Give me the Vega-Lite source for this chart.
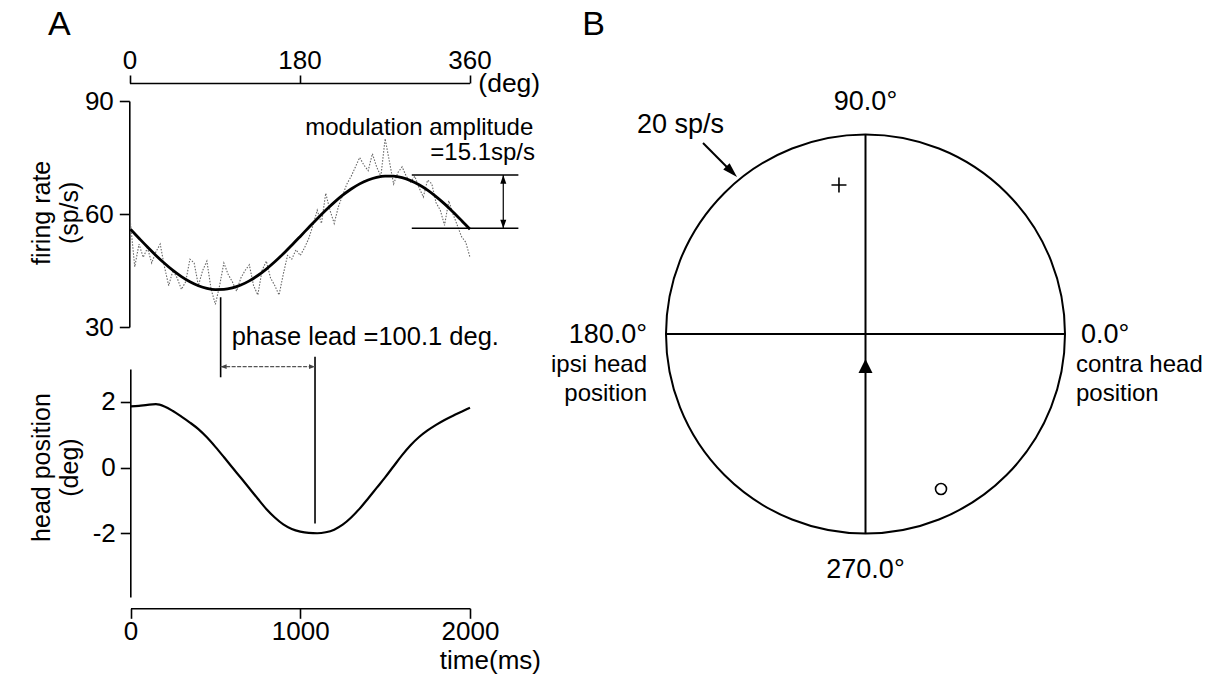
{
"$schema": "https://vega.github.io/schema/vega-lite/v6.json",
"width": 1215, "height": 687,
"autosize": {"type": "none"},
"padding": 0,
"background": "white",
"config": {
  "view": {"stroke": null},
  "font": "Liberation Sans",
  "axis": {"grid": false, "domainColor": "#000", "domainWidth": 1.6, "tickColor": "#000", "tickWidth": 1.6, "tickSize": 10, "labelFont": "Liberation Sans", "labelFontSize": 26, "labelColor": "#000", "labelPadding": 4, "labelFlush": false, "labelOverlap": false},
  "text": {"font": "Liberation Sans", "color": "#000"}
},
"datasets": {
  "fit": [
    {"t":0,"fr":55.95},{"t":50,"fr":53.58},{"t":100,"fr":51.24},{"t":150,"fr":49.0},{"t":200,"fr":46.91},{"t":250,"fr":45.01},{"t":300,"fr":43.37},{"t":350,"fr":42.0},{"t":400,"fr":40.96},{"t":450,"fr":40.26},{"t":500,"fr":39.93},{"t":550,"fr":39.97},{"t":600,"fr":40.37},{"t":650,"fr":41.14},{"t":700,"fr":42.25},{"t":750,"fr":43.67},{"t":800,"fr":45.38},{"t":850,"fr":47.31},{"t":900,"fr":49.44},{"t":950,"fr":51.71},{"t":1000,"fr":54.05},{"t":1050,"fr":56.42},{"t":1100,"fr":58.76},{"t":1150,"fr":61.0},{"t":1200,"fr":63.09},{"t":1250,"fr":64.99},{"t":1300,"fr":66.63},{"t":1350,"fr":68.0},{"t":1400,"fr":69.04},{"t":1450,"fr":69.74},{"t":1500,"fr":70.07},{"t":1550,"fr":70.03},{"t":1600,"fr":69.63},{"t":1650,"fr":68.86},{"t":1700,"fr":67.75},{"t":1750,"fr":66.33},{"t":1800,"fr":64.62},{"t":1850,"fr":62.69},{"t":1900,"fr":60.56},{"t":1950,"fr":58.29},{"t":2000,"fr":55.95}
  ],
  "raw": [
    {"t":0,"fr":57.5},{"t":25,"fr":46},{"t":50,"fr":52},{"t":75,"fr":48.5},{"t":100,"fr":51},{"t":125,"fr":47},{"t":150,"fr":50},{"t":175,"fr":52},{"t":200,"fr":46},{"t":225,"fr":41},{"t":250,"fr":45},{"t":275,"fr":43},{"t":300,"fr":40},{"t":325,"fr":42},{"t":350,"fr":48},{"t":375,"fr":47},{"t":400,"fr":41},{"t":425,"fr":45},{"t":450,"fr":47.5},{"t":475,"fr":40},{"t":500,"fr":36},{"t":525,"fr":41},{"t":550,"fr":47},{"t":575,"fr":44},{"t":600,"fr":42},{"t":625,"fr":39.5},{"t":650,"fr":43},{"t":675,"fr":45},{"t":700,"fr":46.5},{"t":725,"fr":41},{"t":750,"fr":38.5},{"t":775,"fr":45},{"t":800,"fr":47.5},{"t":825,"fr":43},{"t":850,"fr":41},{"t":875,"fr":38.5},{"t":900,"fr":44},{"t":925,"fr":49},{"t":950,"fr":48},{"t":975,"fr":50.5},{"t":1000,"fr":49},{"t":1025,"fr":51},{"t":1050,"fr":53.5},{"t":1075,"fr":57},{"t":1100,"fr":61},{"t":1125,"fr":57.5},{"t":1150,"fr":65.5},{"t":1175,"fr":61},{"t":1200,"fr":57.5},{"t":1225,"fr":62},{"t":1250,"fr":65},{"t":1275,"fr":68},{"t":1300,"fr":70},{"t":1325,"fr":72.5},{"t":1350,"fr":75},{"t":1375,"fr":73},{"t":1400,"fr":71.5},{"t":1425,"fr":76},{"t":1450,"fr":72.5},{"t":1475,"fr":70},{"t":1500,"fr":80},{"t":1525,"fr":74},{"t":1550,"fr":68},{"t":1575,"fr":71},{"t":1600,"fr":72.5},{"t":1625,"fr":70},{"t":1650,"fr":68.5},{"t":1675,"fr":70},{"t":1700,"fr":67},{"t":1725,"fr":64.5},{"t":1750,"fr":69},{"t":1775,"fr":68},{"t":1800,"fr":63},{"t":1825,"fr":61},{"t":1850,"fr":57},{"t":1875,"fr":63.5},{"t":1900,"fr":60},{"t":1925,"fr":57},{"t":1950,"fr":54},{"t":1975,"fr":52.5},{"t":2000,"fr":48.5}
  ],
  "head": [
    {"t":0,"pos":1.86},{"t":50,"pos":1.88},{"t":100,"pos":1.91},{"t":150,"pos":1.93},{"t":200,"pos":1.86},{"t":250,"pos":1.72},{"t":300,"pos":1.55},{"t":350,"pos":1.37},{"t":400,"pos":1.17},{"t":450,"pos":0.92},{"t":500,"pos":0.63},{"t":550,"pos":0.32},{"t":600,"pos":0.0},{"t":650,"pos":-0.31},{"t":700,"pos":-0.63},{"t":750,"pos":-0.95},{"t":800,"pos":-1.26},{"t":850,"pos":-1.52},{"t":900,"pos":-1.73},{"t":950,"pos":-1.87},{"t":1000,"pos":-1.95},{"t":1050,"pos":-1.99},{"t":1100,"pos":-2.0},{"t":1150,"pos":-1.97},{"t":1200,"pos":-1.89},{"t":1250,"pos":-1.74},{"t":1300,"pos":-1.52},{"t":1350,"pos":-1.25},{"t":1400,"pos":-0.94},{"t":1450,"pos":-0.62},{"t":1500,"pos":-0.3},{"t":1550,"pos":0.04},{"t":1600,"pos":0.38},{"t":1650,"pos":0.68},{"t":1700,"pos":0.93},{"t":1750,"pos":1.13},{"t":1800,"pos":1.3},{"t":1850,"pos":1.45},{"t":1900,"pos":1.58},{"t":1950,"pos":1.7},{"t":2000,"pos":1.82}
  ]
},
"resolve": {"scale": {"x": "independent", "y": "independent"}, "axis": {"x": "independent", "y": "independent"}},
"layer": [
  {"data": {"values": [{}]}, "mark": {"type": "point", "opacity": 0},
   "encoding": {"x": {"datum": 0, "type": "quantitative", "scale": {"domain": [0,360], "range": [129.5,469.5], "nice": false, "zero": false}, "axis": {"orient": "top", "offset": -83, "values": [0,180,360], "title": null, "tickSize": 8, "labelPadding": 2}}}},
  {"data": {"name": "raw"}, "mark": {"type": "line", "color": "#666", "strokeWidth": 1.1, "strokeDash": [1.5,1.5]},
   "encoding": {"x": {"field": "t", "type": "quantitative", "scale": {"domain": [0,2000], "range": [130.5,470], "nice": false, "zero": false}, "axis": null},
                "y": {"field": "fr", "type": "quantitative", "scale": {"domain": [30,90], "range": [327,101], "nice": false, "zero": false}, "axis": null}}},
  {"data": {"name": "fit"}, "mark": {"type": "line", "color": "#000", "strokeWidth": 2.8, "interpolate": "monotone"},
   "encoding": {"x": {"field": "t", "type": "quantitative", "scale": {"domain": [0,2000], "range": [130.5,470], "nice": false, "zero": false}, "axis": null},
                "y": {"field": "fr", "type": "quantitative", "scale": {"domain": [30,90], "range": [327,101], "nice": false, "zero": false}, "axis": {"orient": "left", "offset": -129.3, "values": [30,60,90], "title": null, "labelPadding": 6}}}},
  {"data": {"name": "head"}, "mark": {"type": "line", "color": "#000", "strokeWidth": 2.2, "interpolate": "monotone"},
   "encoding": {"x": {"field": "t", "type": "quantitative", "scale": {"domain": [0,2000], "range": [130.5,470], "nice": false, "zero": false}, "axis": {"orient": "bottom", "offset": -78.7, "values": [0,1000,2000], "format": "d", "title": null, "labelPadding": 0}},
                "y": {"field": "pos", "type": "quantitative", "scale": {"domain": [-3.94,3], "range": [597,369], "nice": false, "zero": false}, "axis": {"orient": "left", "offset": -130.3, "values": [-2,0,2], "title": null, "labelPadding": 5, "labelExpr": "datum.value < 0 ? '-' + abs(datum.value) : datum.label"}}}},
  {"data": {"values": [{"level": "max", "fr": 70.35}, {"level": "min", "fr": 56.2}]}, "mark": {"type": "rule", "color": "#000", "strokeWidth": 1.6},
   "encoding": {"x": {"datum": 1657, "type": "quantitative", "scale": {"domain": [0,2000], "range": [130.5,470], "nice": false, "zero": false}, "axis": null}, "x2": {"datum": 2285},
                "y": {"field": "fr", "type": "quantitative", "scale": {"domain": [30,90], "range": [327,101], "nice": false, "zero": false}, "axis": null}}},
  {"data": {"values": [{}]}, "mark": {"type": "rule", "color": "#000", "strokeWidth": 1.2},
   "encoding": {"x": {"datum": 2196, "type": "quantitative", "scale": {"domain": [0,2000], "range": [130.5,470], "nice": false, "zero": false}, "axis": null},
                "y": {"datum": 70.35, "type": "quantitative", "scale": {"domain": [30,90], "range": [327,101], "nice": false, "zero": false}, "axis": null}, "y2": {"datum": 56.2}}},
  {"data": {"values": [{}]}, "mark": {"type": "point", "shape": "M0,0L-0.35,1L0.35,1Z", "filled": true, "color": "#000", "opacity": 1, "size": 300, "strokeWidth": 0},
   "encoding": {"x": {"datum": 2196, "type": "quantitative", "scale": {"domain": [0,2000], "range": [130.5,470], "nice": false, "zero": false}, "axis": null},
                "y": {"datum": 70.35, "type": "quantitative", "scale": {"domain": [30,90], "range": [327,101], "nice": false, "zero": false}, "axis": null}}},
  {"data": {"values": [{}]}, "mark": {"type": "point", "shape": "M0,0L-0.35,-1L0.35,-1Z", "filled": true, "color": "#000", "opacity": 1, "size": 300, "strokeWidth": 0},
   "encoding": {"x": {"datum": 2196, "type": "quantitative", "scale": {"domain": [0,2000], "range": [130.5,470], "nice": false, "zero": false}, "axis": null},
                "y": {"datum": 56.2, "type": "quantitative", "scale": {"domain": [30,90], "range": [327,101], "nice": false, "zero": false}, "axis": null}}},
  {"data": {"values": [{}]}, "mark": {"type": "text", "text": "modulation amplitude", "fontSize": 24, "align": "right", "baseline": "alphabetic"},
   "encoding": {"x": {"datum": 2373, "type": "quantitative", "scale": {"domain": [0,2000], "range": [130.5,470], "nice": false, "zero": false}, "axis": null},
                "y": {"datum": 80.97, "type": "quantitative", "scale": {"domain": [30,90], "range": [327,101], "nice": false, "zero": false}, "axis": null}}},
  {"data": {"values": [{}]}, "mark": {"type": "text", "text": "=15.1sp/s", "fontSize": 24, "align": "right", "baseline": "alphabetic"},
   "encoding": {"x": {"datum": 2383, "type": "quantitative", "scale": {"domain": [0,2000], "range": [130.5,470], "nice": false, "zero": false}, "axis": null},
                "y": {"datum": 74.33, "type": "quantitative", "scale": {"domain": [30,90], "range": [327,101], "nice": false, "zero": false}, "axis": null}}},
  {"data": {"values": [{}]}, "mark": {"type": "rule", "color": "#000", "strokeWidth": 1.6},
   "encoding": {"x": {"datum": 531, "type": "quantitative", "scale": {"domain": [0,2000], "range": [130.5,470], "nice": false, "zero": false}, "axis": null},
                "y": {"datum": 37.9, "type": "quantitative", "scale": {"domain": [30,90], "range": [327,101], "nice": false, "zero": false}, "axis": null}, "y2": {"datum": 16.65}}},
  {"data": {"values": [{}]}, "mark": {"type": "rule", "color": "#000", "strokeWidth": 1.6},
   "encoding": {"x": {"datum": 1087, "type": "quantitative", "scale": {"domain": [0,2000], "range": [130.5,470], "nice": false, "zero": false}, "axis": null},
                "y": {"datum": 3.37, "type": "quantitative", "scale": {"domain": [-3.94,3], "range": [597,369], "nice": false, "zero": false}, "axis": null}, "y2": {"datum": -1.7}}},
  {"data": {"values": [{}]}, "mark": {"type": "rule", "color": "#555", "strokeWidth": 1.2, "strokeDash": [4,1.5]},
   "encoding": {"x": {"datum": 531, "type": "quantitative", "scale": {"domain": [0,2000], "range": [130.5,470], "nice": false, "zero": false}, "axis": null}, "x2": {"datum": 1087},
                "y": {"datum": 3.07, "type": "quantitative", "scale": {"domain": [-3.94,3], "range": [597,369], "nice": false, "zero": false}, "axis": null}}},
  {"data": {"values": [{}]}, "mark": {"type": "point", "shape": "M0,0L-0.4,1L0.4,1Z", "filled": true, "color": "#444", "opacity": 1, "size": 144, "strokeWidth": 0, "angle": 270},
   "encoding": {"x": {"datum": 531, "type": "quantitative", "scale": {"domain": [0,2000], "range": [130.5,470], "nice": false, "zero": false}, "axis": null},
                "y": {"datum": 3.07, "type": "quantitative", "scale": {"domain": [-3.94,3], "range": [597,369], "nice": false, "zero": false}, "axis": null}}},
  {"data": {"values": [{}]}, "mark": {"type": "point", "shape": "M0,0L-0.4,1L0.4,1Z", "filled": true, "color": "#444", "opacity": 1, "size": 144, "strokeWidth": 0, "angle": 90},
   "encoding": {"x": {"datum": 1087, "type": "quantitative", "scale": {"domain": [0,2000], "range": [130.5,470], "nice": false, "zero": false}, "axis": null},
                "y": {"datum": 3.07, "type": "quantitative", "scale": {"domain": [-3.94,3], "range": [597,369], "nice": false, "zero": false}, "axis": null}}},
  {"data": {"values": [{}]}, "mark": {"type": "text", "text": "phase lead =100.1 deg.", "fontSize": 25.5, "align": "left", "baseline": "alphabetic"},
   "encoding": {"x": {"datum": 596, "type": "quantitative", "scale": {"domain": [0,2000], "range": [130.5,470], "nice": false, "zero": false}, "axis": null},
                "y": {"datum": 25.22, "type": "quantitative", "scale": {"domain": [30,90], "range": [327,101], "nice": false, "zero": false}, "axis": null}}},
  {"data": {"values": [{}]}, "mark": {"type": "text", "text": "(deg)", "fontSize": 26.5, "align": "left", "baseline": "alphabetic"},
   "encoding": {"x": {"datum": 2049, "type": "quantitative", "scale": {"domain": [0,2000], "range": [130.5,470], "nice": false, "zero": false}, "axis": null},
                "y": {"datum": 92.38, "type": "quantitative", "scale": {"domain": [30,90], "range": [327,101], "nice": false, "zero": false}, "axis": null}}},
  {"data": {"values": [{}]}, "mark": {"type": "text", "text": "time(ms)", "fontSize": 26, "align": "right", "baseline": "alphabetic"},
   "encoding": {"x": {"datum": 2418, "type": "quantitative", "scale": {"domain": [0,2000], "range": [130.5,470], "nice": false, "zero": false}, "axis": null},
                "y": {"datum": -6.12, "type": "quantitative", "scale": {"domain": [-3.94,3], "range": [597,369], "nice": false, "zero": false}, "axis": null}}},
  {"data": {"values": [{}]}, "mark": {"type": "text", "text": ["firing rate", "(sp/s)"], "fontSize": 25, "align": "center", "baseline": "middle", "angle": 270, "lineHeight": 28},
   "encoding": {"x": {"datum": -521, "type": "quantitative", "scale": {"domain": [0,2000], "range": [130.5,470], "nice": false, "zero": false}, "axis": null},
                "y": {"datum": 60.3, "type": "quantitative", "scale": {"domain": [30,90], "range": [327,101], "nice": false, "zero": false}, "axis": null}}},
  {"data": {"values": [{}]}, "mark": {"type": "text", "text": ["head position", "(deg)"], "fontSize": 25, "align": "center", "baseline": "middle", "angle": 270, "lineHeight": 28},
   "encoding": {"x": {"datum": -521, "type": "quantitative", "scale": {"domain": [0,2000], "range": [130.5,470], "nice": false, "zero": false}, "axis": null},
                "y": {"datum": 0, "type": "quantitative", "scale": {"domain": [-3.94,3], "range": [597,369], "nice": false, "zero": false}, "axis": null}}},
  {"data": {"values": [{}]}, "mark": {"type": "text", "text": "A", "fontSize": 34, "align": "left", "baseline": "alphabetic"},
   "encoding": {"x": {"datum": -486, "type": "quantitative", "scale": {"domain": [0,2000], "range": [130.5,470], "nice": false, "zero": false}, "axis": null},
                "y": {"datum": 107.5, "type": "quantitative", "scale": {"domain": [30,90], "range": [327,101], "nice": false, "zero": false}, "axis": null}}},
  {"data": {"values": [{}]}, "mark": {"type": "point", "shape": "circle", "filled": false, "color": "#000", "opacity": 1, "size": 159201, "strokeWidth": 2},
   "encoding": {"x": {"datum": 0, "type": "quantitative", "scale": {"domain": [-20,20], "range": [666,1065], "nice": false, "zero": false}, "axis": null},
                "y": {"datum": 0, "type": "quantitative", "scale": {"domain": [-20,20], "range": [534,134], "nice": false, "zero": false}, "axis": null}}},
  {"data": {"values": [{}]}, "mark": {"type": "rule", "color": "#000", "strokeWidth": 2},
   "encoding": {"x": {"datum": -20, "type": "quantitative", "scale": {"domain": [-20,20], "range": [666,1065], "nice": false, "zero": false}, "axis": null}, "x2": {"datum": 20},
                "y": {"datum": 0, "type": "quantitative", "scale": {"domain": [-20,20], "range": [534,134], "nice": false, "zero": false}, "axis": null}}},
  {"data": {"values": [{}]}, "mark": {"type": "rule", "color": "#000", "strokeWidth": 2},
   "encoding": {"x": {"datum": 0, "type": "quantitative", "scale": {"domain": [-20,20], "range": [666,1065], "nice": false, "zero": false}, "axis": null},
                "y": {"datum": -20, "type": "quantitative", "scale": {"domain": [-20,20], "range": [534,134], "nice": false, "zero": false}, "axis": null}, "y2": {"datum": 20}}},
  {"data": {"values": [{}]}, "mark": {"type": "point", "shape": "M0,0L-0.5,1L0.5,1Z", "filled": true, "color": "#000", "opacity": 1, "size": 784, "strokeWidth": 0},
   "encoding": {"x": {"datum": 0, "type": "quantitative", "scale": {"domain": [-20,20], "range": [666,1065], "nice": false, "zero": false}, "axis": null},
                "y": {"datum": -2.5, "type": "quantitative", "scale": {"domain": [-20,20], "range": [534,134], "nice": false, "zero": false}, "axis": null}}},
  {"data": {"values": [{}]}, "mark": {"type": "point", "shape": "M-1,0L1,0M0,-1L0,1", "filled": false, "color": "#000", "opacity": 1, "size": 225, "strokeWidth": 1.6},
   "encoding": {"x": {"datum": -2.66, "type": "quantitative", "scale": {"domain": [-20,20], "range": [666,1065], "nice": false, "zero": false}, "axis": null},
                "y": {"datum": 14.9, "type": "quantitative", "scale": {"domain": [-20,20], "range": [534,134], "nice": false, "zero": false}, "axis": null}}},
  {"data": {"values": [{}]}, "mark": {"type": "point", "shape": "circle", "filled": false, "color": "#000", "opacity": 1, "size": 121, "strokeWidth": 1.6},
   "encoding": {"x": {"datum": 7.57, "type": "quantitative", "scale": {"domain": [-20,20], "range": [666,1065], "nice": false, "zero": false}, "axis": null},
                "y": {"datum": -15.5, "type": "quantitative", "scale": {"domain": [-20,20], "range": [534,134], "nice": false, "zero": false}, "axis": null}}},
  {"data": {"values": [{}]}, "mark": {"type": "rule", "color": "#000", "strokeWidth": 2},
   "encoding": {"x": {"datum": -16.29, "type": "quantitative", "scale": {"domain": [-20,20], "range": [666,1065], "nice": false, "zero": false}, "axis": null}, "x2": {"datum": -13.3},
                "y": {"datum": 19.1, "type": "quantitative", "scale": {"domain": [-20,20], "range": [534,134], "nice": false, "zero": false}, "axis": null}, "y2": {"datum": 16.1}}},
  {"data": {"values": [{}]}, "mark": {"type": "point", "shape": "M0,0L-0.3,1L0.3,1Z", "filled": true, "color": "#000", "opacity": 1, "size": 900, "strokeWidth": 0, "angle": 135},
   "encoding": {"x": {"datum": -12.88, "type": "quantitative", "scale": {"domain": [-20,20], "range": [666,1065], "nice": false, "zero": false}, "axis": null},
                "y": {"datum": 15.7, "type": "quantitative", "scale": {"domain": [-20,20], "range": [534,134], "nice": false, "zero": false}, "axis": null}}},
  {"data": {"values": [{}]}, "mark": {"type": "text", "text": "20 sp/s", "fontSize": 27, "align": "left", "baseline": "alphabetic"},
   "encoding": {"x": {"datum": -22.9, "type": "quantitative", "scale": {"domain": [-20,20], "range": [666,1065], "nice": false, "zero": false}, "axis": null},
                "y": {"datum": 20.1, "type": "quantitative", "scale": {"domain": [-20,20], "range": [534,134], "nice": false, "zero": false}, "axis": null}}},
  {"data": {"values": [{}]}, "mark": {"type": "text", "text": "90.0°", "fontSize": 27, "align": "center", "baseline": "alphabetic"},
   "encoding": {"x": {"datum": 0, "type": "quantitative", "scale": {"domain": [-20,20], "range": [666,1065], "nice": false, "zero": false}, "axis": null},
                "y": {"datum": 22.4, "type": "quantitative", "scale": {"domain": [-20,20], "range": [534,134], "nice": false, "zero": false}, "axis": null}}},
  {"data": {"values": [{}]}, "mark": {"type": "text", "text": "270.0°", "fontSize": 27, "align": "center", "baseline": "alphabetic"},
   "encoding": {"x": {"datum": 0, "type": "quantitative", "scale": {"domain": [-20,20], "range": [666,1065], "nice": false, "zero": false}, "axis": null},
                "y": {"datum": -24.4, "type": "quantitative", "scale": {"domain": [-20,20], "range": [534,134], "nice": false, "zero": false}, "axis": null}}},
  {"data": {"values": [{}]}, "mark": {"type": "text", "text": "180.0°", "fontSize": 27, "align": "right", "baseline": "alphabetic"},
   "encoding": {"x": {"datum": -21.9, "type": "quantitative", "scale": {"domain": [-20,20], "range": [666,1065], "nice": false, "zero": false}, "axis": null},
                "y": {"datum": -0.9, "type": "quantitative", "scale": {"domain": [-20,20], "range": [534,134], "nice": false, "zero": false}, "axis": null}}},
  {"data": {"values": [{}]}, "mark": {"type": "text", "text": ["ipsi head", "position"], "fontSize": 24, "align": "right", "baseline": "alphabetic", "lineHeight": 29},
   "encoding": {"x": {"datum": -21.9, "type": "quantitative", "scale": {"domain": [-20,20], "range": [666,1065], "nice": false, "zero": false}, "axis": null},
                "y": {"datum": -3.8, "type": "quantitative", "scale": {"domain": [-20,20], "range": [534,134], "nice": false, "zero": false}, "axis": null}}},
  {"data": {"values": [{}]}, "mark": {"type": "text", "text": "0.0°", "fontSize": 27, "align": "left", "baseline": "alphabetic"},
   "encoding": {"x": {"datum": 21.6, "type": "quantitative", "scale": {"domain": [-20,20], "range": [666,1065], "nice": false, "zero": false}, "axis": null},
                "y": {"datum": -0.9, "type": "quantitative", "scale": {"domain": [-20,20], "range": [534,134], "nice": false, "zero": false}, "axis": null}}},
  {"data": {"values": [{}]}, "mark": {"type": "text", "text": ["contra head", "position"], "fontSize": 24, "align": "left", "baseline": "alphabetic", "lineHeight": 29},
   "encoding": {"x": {"datum": 21.1, "type": "quantitative", "scale": {"domain": [-20,20], "range": [666,1065], "nice": false, "zero": false}, "axis": null},
                "y": {"datum": -3.8, "type": "quantitative", "scale": {"domain": [-20,20], "range": [534,134], "nice": false, "zero": false}, "axis": null}}},
  {"data": {"values": [{}]}, "mark": {"type": "text", "text": "B", "fontSize": 34, "align": "left", "baseline": "alphabetic"},
   "encoding": {"x": {"datum": -28.4, "type": "quantitative", "scale": {"domain": [-20,20], "range": [666,1065], "nice": false, "zero": false}, "axis": null},
                "y": {"datum": 29.9, "type": "quantitative", "scale": {"domain": [-20,20], "range": [534,134], "nice": false, "zero": false}, "axis": null}}}
]
}
